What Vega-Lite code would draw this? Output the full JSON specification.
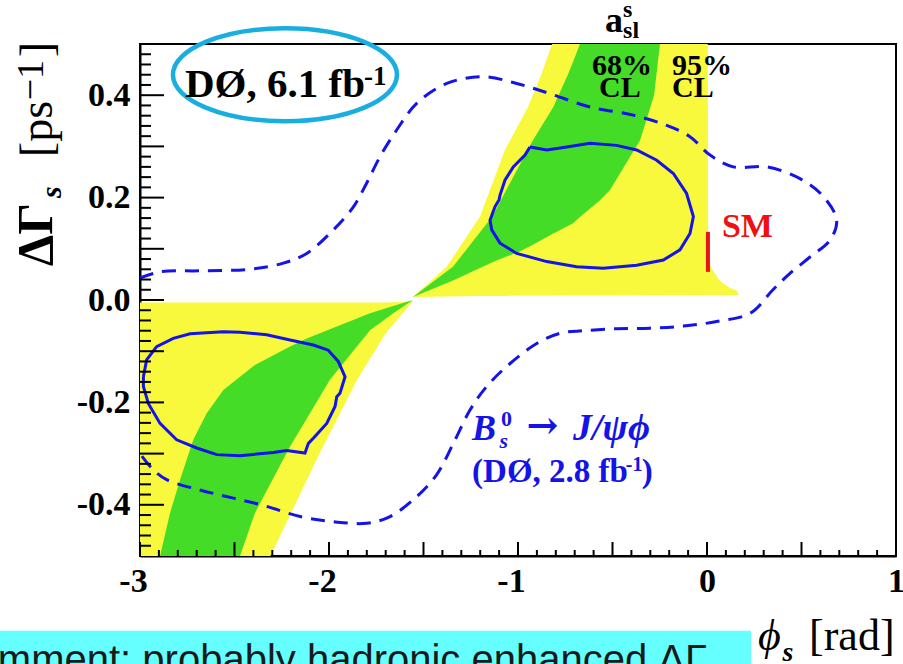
{
  "$schema": "https://vega.github.io/schema/vega-lite/v6.json",
  "width": 756,
  "height": 512,
  "autosize": {"type": "none"},
  "padding": {"left": 140, "top": 44, "right": 7, "bottom": 108},
  "background": "white",
  "config": {
    "view": {"stroke": "black", "strokeWidth": 2},
    "axis": {"grid": false, "domainColor": "black", "domainWidth": 2, "ticks": false, "tickSize": 0, "labelFont": "Liberation Serif", "labelFontWeight": "bold", "labelFontSize": 34, "labelColor": "black"}
  },
  "encoding": {
    "x": {"field": "x", "type": "quantitative", "scale": {"domain": [-3, 1], "nice": false, "zero": false},
      "axis": {"title": null,
        "values": [-3, -2, -1, 0, 1],
        "labelExpr": "(datum.value < -0.001 ? '-' : '') + format(abs(round(datum.value)), 'd')",
        "labelPadding": 8, "labelFlush": false, "labelOverlap": false, "labelBound": false,
        "labelOffset": {"condition": {"test": "datum.value < -0.001", "value": -7}, "value": 0}}},
    "y": {"field": "y", "type": "quantitative", "scale": {"domain": [-0.5, 0.5], "nice": false, "zero": false},
      "axis": {"title": null,
        "values": [-0.4, -0.2, 0, 0.2, 0.4],
        "labelExpr": "(datum.value < -0.001 ? '-' : '') + format(abs(datum.value), '.1f')",
        "labelPadding": 10, "labelFlush": false, "labelOverlap": false, "labelBound": false}}
  },
  "layer": [
    {
      "data": {"values": [
        {"x": -3, "y": -0.5, "y2": -0.005},
        {"x": -2.31, "y": -0.5, "y2": -0.005},
        {"x": -2.18, "y": -0.4, "y2": -0.005},
        {"x": -2.05, "y": -0.3, "y2": -0.005},
        {"x": -1.85, "y": -0.155, "y2": -0.005},
        {"x": -1.7, "y": -0.065, "y2": -0.005},
        {"x": -1.61, "y": -0.026, "y2": -0.004},
        {"x": -1.556, "y": -0.002, "y2": -0.002}
      ]},
      "mark": {"type": "area", "color": "#f8f83c", "opacity": 1},
      "encoding": {"y2": {"field": "y2"}}
    },
    {
      "data": {"values": [
        {"x": -1.556, "y": 0.006, "y2": 0.006},
        {"x": -1.377, "y": 0.007, "y2": 0.065},
        {"x": -1.201, "y": 0.008, "y2": 0.163},
        {"x": -1.069, "y": 0.008, "y2": 0.293},
        {"x": -0.947, "y": 0.009, "y2": 0.377},
        {"x": -0.875, "y": 0.009, "y2": 0.442},
        {"x": -0.82, "y": 0.009, "y2": 0.5},
        {"x": 0.004, "y": 0.01, "y2": 0.5},
        {"x": 0.006, "y": 0.01, "y2": 0.074},
        {"x": 0.03, "y": 0.01, "y2": 0.058},
        {"x": 0.069, "y": 0.01, "y2": 0.037},
        {"x": 0.12, "y": 0.01, "y2": 0.024},
        {"x": 0.159, "y": 0.01, "y2": 0.018},
        {"x": 0.166, "y": 0.01, "y2": 0.011}
      ]},
      "mark": {"type": "area", "color": "#f8f83c", "opacity": 1},
      "encoding": {"y2": {"field": "y2"}}
    },
    {
      "data": {"values": [
        {"x": -2.894, "y": -0.5, "y2": -0.5},
        {"x": -2.841, "y": -0.5, "y2": -0.416},
        {"x": -2.788, "y": -0.5, "y2": -0.351},
        {"x": -2.718, "y": -0.5, "y2": -0.273},
        {"x": -2.647, "y": -0.5, "y2": -0.221},
        {"x": -2.559, "y": -0.5, "y2": -0.176},
        {"x": -2.471, "y": -0.5, "y2": -0.15},
        {"x": -2.392, "y": -0.416, "y2": -0.127},
        {"x": -2.206, "y": -0.286, "y2": -0.091},
        {"x": -2.118, "y": -0.232, "y2": -0.075},
        {"x": -1.995, "y": -0.156, "y2": -0.057},
        {"x": -1.783, "y": -0.059, "y2": -0.026},
        {"x": -1.66, "y": -0.026, "y2": -0.0115},
        {"x": -1.556, "y": 0, "y2": 0}
      ]},
      "mark": {"type": "area", "color": "#45dc28", "opacity": 1},
      "encoding": {"y2": {"field": "y2"}}
    },
    {
      "data": {"values": [
        {"x": -1.556, "y": 0.006, "y2": 0.006},
        {"x": -1.376, "y": 0.033, "y2": 0.056},
        {"x": -1.344, "y": 0.038, "y2": 0.065},
        {"x": -1.138, "y": 0.073, "y2": 0.162},
        {"x": -1.095, "y": 0.08, "y2": 0.192},
        {"x": -0.989, "y": 0.095, "y2": 0.265},
        {"x": -0.921, "y": 0.108, "y2": 0.312},
        {"x": -0.813, "y": 0.13, "y2": 0.377},
        {"x": -0.734, "y": 0.145, "y2": 0.442},
        {"x": -0.709, "y": 0.15, "y2": 0.465},
        {"x": -0.672, "y": 0.162, "y2": 0.5},
        {"x": -0.566, "y": 0.195, "y2": 0.5},
        {"x": -0.513, "y": 0.215, "y2": 0.5},
        {"x": -0.354, "y": 0.312, "y2": 0.5},
        {"x": -0.28, "y": 0.4, "y2": 0.5},
        {"x": -0.249, "y": 0.5, "y2": 0.5}
      ]},
      "mark": {"type": "area", "color": "#45dc28", "opacity": 1},
      "encoding": {"y2": {"field": "y2"}}
    },
    {
      "data": {"values": [
        {"i": 0, "x": -3.0, "y": 0.043}, {"i": 1, "x": -2.894, "y": 0.055}, {"i": 2, "x": -2.683, "y": 0.057},
        {"i": 3, "x": -2.418, "y": 0.06}, {"i": 4, "x": -2.242, "y": 0.072}, {"i": 5, "x": -2.118, "y": 0.091},
        {"i": 6, "x": -1.977, "y": 0.137}, {"i": 7, "x": -1.871, "y": 0.182}, {"i": 8, "x": -1.801, "y": 0.228},
        {"i": 9, "x": -1.73, "y": 0.28}, {"i": 10, "x": -1.642, "y": 0.332}, {"i": 11, "x": -1.536, "y": 0.384},
        {"i": 12, "x": -1.377, "y": 0.423}, {"i": 13, "x": -1.184, "y": 0.436}, {"i": 14, "x": -1.007, "y": 0.423},
        {"i": 15, "x": -0.831, "y": 0.403}, {"i": 16, "x": -0.619, "y": 0.377}, {"i": 17, "x": -0.39, "y": 0.361},
        {"i": 18, "x": -0.213, "y": 0.341}, {"i": 19, "x": -0.09, "y": 0.319}, {"i": 20, "x": 0.016, "y": 0.283},
        {"i": 21, "x": 0.139, "y": 0.26}, {"i": 22, "x": 0.316, "y": 0.26}, {"i": 23, "x": 0.492, "y": 0.237},
        {"i": 24, "x": 0.616, "y": 0.202}, {"i": 25, "x": 0.686, "y": 0.156}, {"i": 26, "x": 0.651, "y": 0.117},
        {"i": 27, "x": 0.545, "y": 0.084}, {"i": 28, "x": 0.439, "y": 0.052}, {"i": 29, "x": 0.349, "y": 0.02},
        {"i": 30, "x": 0.228, "y": -0.026}, {"i": 31, "x": 0.051, "y": -0.042}, {"i": 32, "x": -0.125, "y": -0.051},
        {"i": 33, "x": -0.302, "y": -0.055}, {"i": 34, "x": -0.478, "y": -0.056}, {"i": 35, "x": -0.654, "y": -0.06},
        {"i": 36, "x": -0.778, "y": -0.065}, {"i": 37, "x": -0.901, "y": -0.085}, {"i": 38, "x": -1.042, "y": -0.124},
        {"i": 39, "x": -1.166, "y": -0.169}, {"i": 40, "x": -1.254, "y": -0.215}, {"i": 41, "x": -1.342, "y": -0.28},
        {"i": 42, "x": -1.43, "y": -0.341}, {"i": 43, "x": -1.536, "y": -0.384}, {"i": 44, "x": -1.677, "y": -0.423},
        {"i": 45, "x": -1.801, "y": -0.436}, {"i": 46, "x": -1.977, "y": -0.433}, {"i": 47, "x": -2.153, "y": -0.423},
        {"i": 48, "x": -2.33, "y": -0.403}, {"i": 49, "x": -2.506, "y": -0.387}, {"i": 50, "x": -2.683, "y": -0.371},
        {"i": 51, "x": -2.859, "y": -0.351}, {"i": 52, "x": -2.929, "y": -0.332}, {"i": 53, "x": -3.0, "y": -0.3}
      ]},
      "mark": {"type": "line", "color": "#1414e6", "strokeWidth": 3, "strokeDash": [14, 9], "interpolate": "catmull-rom"},
      "encoding": {"order": {"field": "i", "type": "quantitative"}}
    },
    {
      "data": {"values": [
        {"c": "u", "i": 0, "x": -0.937, "y": 0.299}, {"c": "u", "i": 1, "x": -0.848, "y": 0.293}, {"c": "u", "i": 2, "x": -0.742, "y": 0.299},
        {"c": "u", "i": 3, "x": -0.619, "y": 0.306}, {"c": "u", "i": 4, "x": -0.478, "y": 0.302}, {"c": "u", "i": 5, "x": -0.372, "y": 0.293},
        {"c": "u", "i": 6, "x": -0.266, "y": 0.273}, {"c": "u", "i": 7, "x": -0.178, "y": 0.247}, {"c": "u", "i": 8, "x": -0.108, "y": 0.208},
        {"c": "u", "i": 9, "x": -0.072, "y": 0.163}, {"c": "u", "i": 10, "x": -0.09, "y": 0.13}, {"c": "u", "i": 11, "x": -0.143, "y": 0.098},
        {"c": "u", "i": 12, "x": -0.231, "y": 0.078}, {"c": "u", "i": 13, "x": -0.372, "y": 0.068}, {"c": "u", "i": 14, "x": -0.549, "y": 0.062},
        {"c": "u", "i": 15, "x": -0.69, "y": 0.065}, {"c": "u", "i": 16, "x": -0.848, "y": 0.075}, {"c": "u", "i": 17, "x": -1.007, "y": 0.091},
        {"c": "u", "i": 18, "x": -1.095, "y": 0.111}, {"c": "u", "i": 19, "x": -1.139, "y": 0.137}, {"c": "u", "i": 20, "x": -1.148, "y": 0.156},
        {"c": "u", "i": 21, "x": -1.122, "y": 0.182}, {"c": "u", "i": 22, "x": -1.1, "y": 0.196}, {"c": "u", "i": 23, "x": -1.095, "y": 0.205},
        {"c": "u", "i": 24, "x": -1.069, "y": 0.234}, {"c": "u", "i": 25, "x": -1.025, "y": 0.26}, {"c": "u", "i": 26, "x": -0.963, "y": 0.283},
        {"c": "u", "i": 27, "x": -0.937, "y": 0.299},
        {"c": "l", "i": 0, "x": -2.982, "y": -0.15}, {"c": "l", "i": 1, "x": -2.965, "y": -0.117}, {"c": "l", "i": 2, "x": -2.912, "y": -0.091},
        {"c": "l", "i": 3, "x": -2.824, "y": -0.075}, {"c": "l", "i": 4, "x": -2.735, "y": -0.066}, {"c": "l", "i": 5, "x": -2.559, "y": -0.062},
        {"c": "l", "i": 6, "x": -2.471, "y": -0.063}, {"c": "l", "i": 7, "x": -2.33, "y": -0.068}, {"c": "l", "i": 8, "x": -2.206, "y": -0.078},
        {"c": "l", "i": 9, "x": -2.083, "y": -0.088}, {"c": "l", "i": 10, "x": -2.004, "y": -0.098}, {"c": "l", "i": 11, "x": -1.951, "y": -0.12},
        {"c": "l", "i": 12, "x": -1.915, "y": -0.15}, {"c": "l", "i": 13, "x": -1.942, "y": -0.182}, {"c": "l", "i": 14, "x": -1.959, "y": -0.189},
        {"c": "l", "i": 15, "x": -1.968, "y": -0.208}, {"c": "l", "i": 16, "x": -2.012, "y": -0.241}, {"c": "l", "i": 17, "x": -2.083, "y": -0.27},
        {"c": "l", "i": 18, "x": -2.109, "y": -0.28}, {"c": "l", "i": 19, "x": -2.127, "y": -0.299}, {"c": "l", "i": 20, "x": -2.224, "y": -0.294},
        {"c": "l", "i": 21, "x": -2.295, "y": -0.298}, {"c": "l", "i": 22, "x": -2.471, "y": -0.304}, {"c": "l", "i": 23, "x": -2.594, "y": -0.302},
        {"c": "l", "i": 24, "x": -2.7, "y": -0.289}, {"c": "l", "i": 25, "x": -2.806, "y": -0.273}, {"c": "l", "i": 26, "x": -2.894, "y": -0.241},
        {"c": "l", "i": 27, "x": -2.956, "y": -0.202}, {"c": "l", "i": 28, "x": -2.982, "y": -0.169}, {"c": "l", "i": 29, "x": -2.982, "y": -0.15}
      ]},
      "mark": {"type": "line", "color": "#1414e6", "strokeWidth": 3},
      "encoding": {"order": {"field": "i", "type": "quantitative"}, "detail": {"field": "c", "type": "nominal"}}
    },
    {
      "data": {"values": [
        {"x": -3, "y": -0.5}, {"x": -2.5, "y": -0.5}, {"x": -2, "y": -0.5}, {"x": -1.5, "y": -0.5}, {"x": -1, "y": -0.5},
        {"x": -0.5, "y": -0.5}, {"x": 0, "y": -0.5}, {"x": 0.5, "y": -0.5}, {"x": 1, "y": -0.5}
      ]},
      "mark": {"type": "rule", "color": "black", "strokeWidth": 2, "y2Offset": -14},
      "encoding": {"y2": {"field": "y"}}
    },
    {
      "data": {"values": [
        {"x": -2.9, "y": -0.5}, {"x": -2.8, "y": -0.5}, {"x": -2.7, "y": -0.5}, {"x": -2.6, "y": -0.5}, {"x": -2.4, "y": -0.5}, {"x": -2.3, "y": -0.5}, {"x": -2.2, "y": -0.5}, {"x": -2.1, "y": -0.5},
        {"x": -1.9, "y": -0.5}, {"x": -1.8, "y": -0.5}, {"x": -1.7, "y": -0.5}, {"x": -1.6, "y": -0.5}, {"x": -1.4, "y": -0.5}, {"x": -1.3, "y": -0.5}, {"x": -1.2, "y": -0.5}, {"x": -1.1, "y": -0.5},
        {"x": -0.9, "y": -0.5}, {"x": -0.8, "y": -0.5}, {"x": -0.7, "y": -0.5}, {"x": -0.6, "y": -0.5}, {"x": -0.4, "y": -0.5}, {"x": -0.3, "y": -0.5}, {"x": -0.2, "y": -0.5}, {"x": -0.1, "y": -0.5},
        {"x": 0.1, "y": -0.5}, {"x": 0.2, "y": -0.5}, {"x": 0.3, "y": -0.5}, {"x": 0.4, "y": -0.5}, {"x": 0.6, "y": -0.5}, {"x": 0.7, "y": -0.5}, {"x": 0.8, "y": -0.5}, {"x": 0.9, "y": -0.5}
      ]},
      "mark": {"type": "rule", "color": "black", "strokeWidth": 2, "y2Offset": -6},
      "encoding": {"y2": {"field": "y"}}
    },
    {
      "data": {"values": [
        {"x": -3, "y": -0.4}, {"x": -3, "y": -0.3}, {"x": -3, "y": -0.2}, {"x": -3, "y": -0.1}, {"x": -3, "y": 0},
        {"x": -3, "y": 0.1}, {"x": -3, "y": 0.2}, {"x": -3, "y": 0.3}, {"x": -3, "y": 0.4}
      ]},
      "mark": {"type": "rule", "color": "black", "strokeWidth": 2, "x2Offset": 24},
      "encoding": {"x2": {"field": "x"}}
    },
    {
      "data": {"values": [
        {"x": -3, "y": -0.48}, {"x": -3, "y": -0.46}, {"x": -3, "y": -0.44}, {"x": -3, "y": -0.42}, {"x": -3, "y": -0.38}, {"x": -3, "y": -0.36}, {"x": -3, "y": -0.34}, {"x": -3, "y": -0.32},
        {"x": -3, "y": -0.28}, {"x": -3, "y": -0.26}, {"x": -3, "y": -0.24}, {"x": -3, "y": -0.22}, {"x": -3, "y": -0.18}, {"x": -3, "y": -0.16}, {"x": -3, "y": -0.14}, {"x": -3, "y": -0.12},
        {"x": -3, "y": -0.08}, {"x": -3, "y": -0.06}, {"x": -3, "y": -0.04}, {"x": -3, "y": -0.02}, {"x": -3, "y": 0.02}, {"x": -3, "y": 0.04}, {"x": -3, "y": 0.06}, {"x": -3, "y": 0.08},
        {"x": -3, "y": 0.12}, {"x": -3, "y": 0.14}, {"x": -3, "y": 0.16}, {"x": -3, "y": 0.18}, {"x": -3, "y": 0.22}, {"x": -3, "y": 0.24}, {"x": -3, "y": 0.26}, {"x": -3, "y": 0.28},
        {"x": -3, "y": 0.32}, {"x": -3, "y": 0.34}, {"x": -3, "y": 0.36}, {"x": -3, "y": 0.38}, {"x": -3, "y": 0.42}, {"x": -3, "y": 0.44}, {"x": -3, "y": 0.46}, {"x": -3, "y": 0.48}
      ]},
      "mark": {"type": "rule", "color": "black", "strokeWidth": 2, "x2Offset": 11},
      "encoding": {"x2": {"field": "x"}}
    },
    {
      "data": {"values": [{"x": 0.005, "y": 0.055, "y2": 0.133}]},
      "mark": {"type": "rule", "color": "#ee1111", "strokeWidth": 4},
      "encoding": {"y2": {"field": "y2"}}
    },
    {
      "data": {"values": [{"x": -2.233, "y": 0.44}]},
      "mark": {"type": "point", "shape": "M-1,0A1,0.415,0,1,1,1,0A1,0.415,0,1,1,-1,0Z", "size": 50176, "filled": false, "color": "#19aee0", "strokeWidth": 4.5, "opacity": 1}
    },
    {
      "data": {"values": [{"x": -3.76, "x2": 0.233, "y": -0.646, "y2": -0.95}]},
      "mark": {"type": "rect", "color": "#66ffff", "opacity": 1},
      "encoding": {"x2": {"field": "x2"}, "y2": {"field": "y2"}}
    },
    {
      "data": {"values": [{"x": -3.752, "y": -0.728, "t": "mment: probably hadronic enhanced ΔΓ"}]},
      "mark": {"type": "text", "align": "left", "baseline": "alphabetic", "font": "Liberation Sans", "fontSize": 40, "color": "#1a1a1a"},
      "encoding": {"text": {"field": "t"}}
    },
    {
      "data": {"values": [{"x": -2.762, "y": 0.396, "t": "DØ, 6.1 fb"}]},
      "mark": {"type": "text", "align": "left", "baseline": "alphabetic", "font": "Liberation Serif", "fontWeight": "bold", "fontSize": 41, "color": "black"},
      "encoding": {"text": {"field": "t"}}
    },
    {
      "data": {"values": [{"x": -1.815, "y": 0.42, "t": "-1"}]},
      "mark": {"type": "text", "align": "left", "baseline": "alphabetic", "font": "Liberation Serif", "fontWeight": "bold", "fontSize": 27, "color": "black"},
      "encoding": {"text": {"field": "t"}}
    },
    {
      "data": {"values": [
        {"x": -0.608, "y": 0.439, "t": "68%"}, {"x": -0.571, "y": 0.396, "t": "CL"},
        {"x": -0.185, "y": 0.439, "t": "95%"}, {"x": -0.185, "y": 0.396, "t": "CL"}
      ]},
      "mark": {"type": "text", "align": "left", "baseline": "alphabetic", "font": "Liberation Serif", "fontWeight": "bold", "fontSize": 30, "color": "black"},
      "encoding": {"text": {"field": "t"}}
    },
    {
      "data": {"values": [{"x": -0.54, "y": 0.523, "t": "a"}]},
      "mark": {"type": "text", "align": "left", "baseline": "alphabetic", "font": "Liberation Serif", "fontWeight": "bold", "fontSize": 36, "color": "black"},
      "encoding": {"text": {"field": "t"}}
    },
    {
      "data": {"values": [{"x": -0.444, "y": 0.552, "t": "s"}, {"x": -0.444, "y": 0.511, "t": "sl"}]},
      "mark": {"type": "text", "align": "left", "baseline": "alphabetic", "font": "Liberation Serif", "fontWeight": "bold", "fontSize": 24, "color": "black"},
      "encoding": {"text": {"field": "t"}}
    },
    {
      "data": {"values": [{"x": 0.079, "y": 0.123, "t": "SM"}]},
      "mark": {"type": "text", "align": "left", "baseline": "alphabetic", "font": "Liberation Serif", "fontWeight": "bold", "fontSize": 34, "color": "#ee1111"},
      "encoding": {"text": {"field": "t"}}
    },
    {
      "data": {"values": [{"x": -1.243, "y": -0.273, "t": "B"}]},
      "mark": {"type": "text", "align": "left", "baseline": "alphabetic", "font": "Liberation Serif", "fontWeight": "bold", "fontStyle": "italic", "fontSize": 36, "color": "#1414e6"},
      "encoding": {"text": {"field": "t"}}
    },
    {
      "data": {"values": [{"x": -0.955, "y": -0.27, "t": "→"}]},
      "mark": {"type": "text", "align": "left", "baseline": "alphabetic", "font": "DejaVu Serif", "fontWeight": "bold", "fontSize": 38, "color": "#1414e6"},
      "encoding": {"text": {"field": "t"}}
    },
    {
      "data": {"values": [{"x": -0.709, "y": -0.273, "t": "J/ψϕ"}]},
      "mark": {"type": "text", "align": "left", "baseline": "alphabetic", "font": "Liberation Serif", "fontWeight": "bold", "fontStyle": "italic", "fontSize": 38, "color": "#1414e6"},
      "encoding": {"text": {"field": "t"}}
    },
    {
      "data": {"values": [{"x": -1.09, "y": -0.246, "t": "0"}]},
      "mark": {"type": "text", "align": "left", "baseline": "alphabetic", "font": "Liberation Serif", "fontWeight": "bold", "fontSize": 22, "color": "#1414e6"},
      "encoding": {"text": {"field": "t"}}
    },
    {
      "data": {"values": [{"x": -1.098, "y": -0.289, "t": "s"}]},
      "mark": {"type": "text", "align": "left", "baseline": "alphabetic", "font": "Liberation Serif", "fontWeight": "bold", "fontStyle": "italic", "fontSize": 22, "color": "#1414e6"},
      "encoding": {"text": {"field": "t"}}
    },
    {
      "data": {"values": [{"x": -1.243, "y": -0.355, "t": "(DØ, 2.8 fb"}, {"x": -0.345, "y": -0.355, "t": ")"}]},
      "mark": {"type": "text", "align": "left", "baseline": "alphabetic", "font": "Liberation Serif", "fontWeight": "bold", "fontSize": 33, "color": "#1414e6"},
      "encoding": {"text": {"field": "t"}}
    },
    {
      "data": {"values": [{"x": -0.43, "y": -0.334, "t": "-1"}]},
      "mark": {"type": "text", "align": "left", "baseline": "alphabetic", "font": "Liberation Serif", "fontWeight": "bold", "fontSize": 20, "color": "#1414e6"},
      "encoding": {"text": {"field": "t"}}
    },
    {
      "data": {"values": [{"x": -3.466, "y": 0.066, "t": "ΔΓ"}]},
      "mark": {"type": "text", "align": "left", "baseline": "alphabetic", "angle": 270, "font": "Liberation Serif", "fontWeight": "bold", "fontSize": 50, "color": "black"},
      "encoding": {"text": {"field": "t"}}
    },
    {
      "data": {"values": [{"x": -3.418, "y": 0.199, "t": "s"}]},
      "mark": {"type": "text", "align": "left", "baseline": "alphabetic", "angle": 270, "font": "Liberation Serif", "fontWeight": "bold", "fontStyle": "italic", "fontSize": 30, "color": "black"},
      "encoding": {"text": {"field": "t"}}
    },
    {
      "data": {"values": [{"x": -3.466, "y": 0.279, "t": "[ps"}, {"x": -3.466, "y": 0.474, "t": "]"}]},
      "mark": {"type": "text", "align": "left", "baseline": "alphabetic", "angle": 270, "font": "Liberation Serif", "fontSize": 46, "color": "black"},
      "encoding": {"text": {"field": "t"}}
    },
    {
      "data": {"values": [{"x": -3.513, "y": 0.39, "t": "−1"}]},
      "mark": {"type": "text", "align": "left", "baseline": "alphabetic", "angle": 270, "font": "Liberation Serif", "fontSize": 38, "color": "black"},
      "encoding": {"text": {"field": "t"}}
    },
    {
      "data": {"values": [{"x": 0.27, "y": -0.683, "t": "ϕ"}]},
      "mark": {"type": "text", "align": "left", "baseline": "alphabetic", "font": "Liberation Serif", "fontStyle": "italic", "fontSize": 44, "color": "black"},
      "encoding": {"text": {"field": "t"}}
    },
    {
      "data": {"values": [{"x": 0.4, "y": -0.706, "t": "s"}]},
      "mark": {"type": "text", "align": "left", "baseline": "alphabetic", "font": "Liberation Serif", "fontStyle": "italic", "fontWeight": "bold", "fontSize": 28, "color": "black"},
      "encoding": {"text": {"field": "t"}}
    },
    {
      "data": {"values": [{"x": 0.54, "y": -0.683, "t": "[rad]"}]},
      "mark": {"type": "text", "align": "left", "baseline": "alphabetic", "font": "Liberation Serif", "fontSize": 44, "color": "black"},
      "encoding": {"text": {"field": "t"}}
    }
  ]
}
